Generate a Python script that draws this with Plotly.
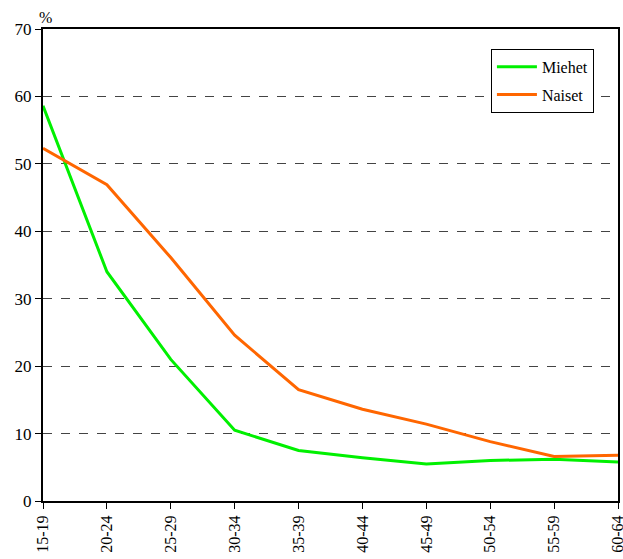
import plotly.graph_objects as go

categories = ["15-19", "20-24", "25-29", "30-34", "35-39", "40-44", "45-49", "50-54", "55-59", "60-64"]
miehet = [58.6, 34.0, 21.0, 10.5, 7.5, 6.4, 5.5, 6.0, 6.2, 5.8]
naiset = [52.3, 46.9, 36.1, 24.6, 16.5, 13.6, 11.4, 8.8, 6.6, 6.8]
y_ticks = [0, 10, 20, 30, 40, 50, 60, 70]

xs = list(range(len(categories)))

fig = go.Figure()
fig.add_trace(go.Scatter(x=xs, y=miehet, mode="lines", name="Miehet", legendgroup="m",
                         line=dict(color="#00F000", width=3)))
fig.add_trace(go.Scatter(x=xs, y=naiset, mode="lines", name="Naiset", legendgroup="n",
                         line=dict(color="#FF6600", width=3)))

font_family = "Liberation Serif"
fig.update_layout(
    width=623, height=559,
    margin=dict(l=43, r=5, t=29, b=58),
    plot_bgcolor="white", paper_bgcolor="white",
    font=dict(family=font_family, size=16, color="black"),
    showlegend=True,
    legend=dict(x=0.779, y=0.958, xanchor="left", yanchor="top",
                bordercolor="black", borderwidth=1, bgcolor="white",
                font=dict(family=font_family, size=16), itemwidth=40,
                traceorder="grouped", tracegroupgap=4),
    xaxis=dict(range=[0, len(categories) - 1], tickvals=xs, ticktext=categories,
               tickangle=-90, showgrid=False, zeroline=False, automargin=False,
               showline=True, linecolor="black", linewidth=2, mirror=True,
               ticks="outside", ticklen=6, tickwidth=1, tickcolor="black",
               ticklabeloverflow="allow",
               tickfont=dict(family=font_family, size=16)),
    yaxis=dict(range=[0, 70], tickvals=y_ticks, showgrid=True, automargin=False,
               gridcolor="#444444", griddash="dash", gridwidth=1,
               zeroline=False, showline=True, linecolor="black", linewidth=2,
               mirror=True, ticks="outside", ticklen=6, tickwidth=1,
               tickcolor="black", tickfont=dict(family=font_family, size=17)),
    annotations=[dict(text="%", x=0, y=1, xref="paper", yref="paper",
                      xanchor="left", yanchor="bottom", showarrow=False,
                      yshift=1, xshift=-6, font=dict(family=font_family, size=16))],
)

fig.write_html("out.html", config={"displayModeBar": False},
               post_script="document.body.style.margin='0px';document.body.style.overflow='hidden';")
